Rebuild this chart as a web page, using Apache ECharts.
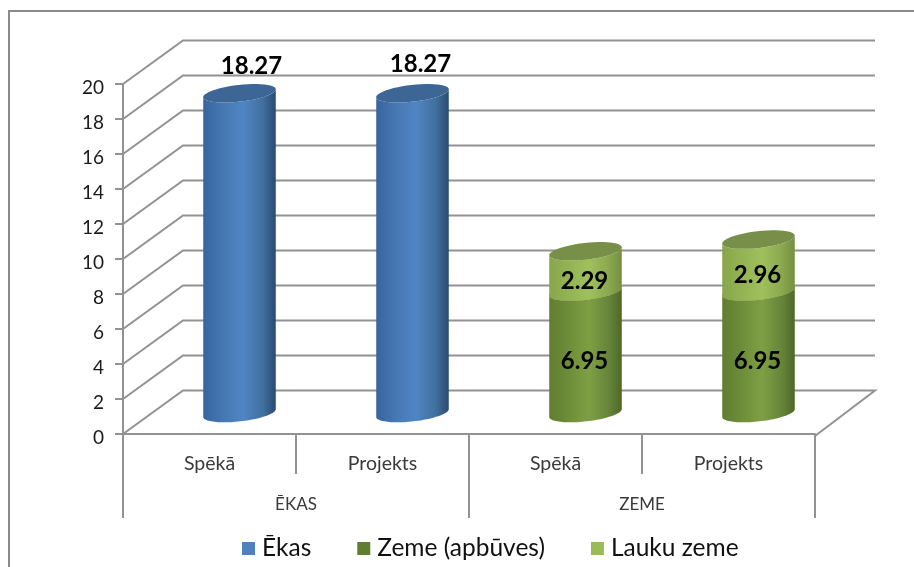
<!DOCTYPE html>
<html>
<head>
<meta charset="utf-8">
<style>html,body{margin:0;padding:0;background:#fff}#c{width:914px;height:567px}</style>
<script src="https://cdn.jsdelivr.net/npm/echarts@6/dist/echarts.min.js"></script>
</head>
<body>
<div id="c"></div>
<script>
const categories = ['Spēkā', 'Projekts', 'Spēkā', 'Projekts'];
const groups = ['ĒKAS', 'ZEME'];
const yTicks = [0, 2, 4, 6, 8, 10, 12, 14, 16, 18, 20];
const ekas = [18.27, 18.27, null, null];
const zemeApbuves = [null, null, 6.95, 6.95];
const laukuZeme = [null, null, 2.29, 2.96];

const FONT = 'Lato, "Open Sans", sans-serif';
const GRID_LINE = '#929292';
const DEPTH = [60, -43.5];           // front-to-back wall shift
const MID = [30, -21];               // bars stand halfway down the floor
const RX = 36.5, RY = 8.4, TILT = -6.5 * Math.PI / 180;

function ellipsePoint(cx, cy, t) {
  const ex = RX * Math.cos(t), ey = RY * Math.sin(t);
  return [cx + ex * Math.cos(TILT) - ey * Math.sin(TILT),
          cy + ex * Math.sin(TILT) + ey * Math.cos(TILT)];
}
function arc(cx, cy, from, to) {
  const pts = [];
  const n = 48;
  for (let i = 0; i <= n; i++) pts.push(ellipsePoint(cx, cy, from + (to - from) * i / n));
  return pts;
}
function hGrad(stops) {
  return new echarts.graphic.LinearGradient(0, 0, 1, 0, stops.map(c => ({offset: c[0], color: c[1]})));
}

function cylinderItem(bodyStops, capColor, labelOf) {
  return function (params, api) {
    const cat = api.value(0), base = api.value(1), top = api.value(2);
    const pb = api.coord([cat, base]), pt = api.coord([cat, top]);
    const x = pb[0] + MID[0], yb = pb[1] + MID[1], yt = pt[1] + MID[1];
    const bottom = arc(x, yb, Math.PI, 0);
    const topBack = arc(x, yt, 0, Math.PI);
    const lab = labelOf(params.dataIndex, x, yb, yt);
    return {type: 'group', children: [
      {type: 'polygon', shape: {points: bottom.concat(topBack)}, style: {fill: hGrad(bodyStops)}},
      {type: 'polygon', shape: {points: arc(x, yt, 0, Math.PI * 2)}, style: {fill: capColor}},
      {type: 'text', z2: 50, style: {
        x: lab.x, y: lab.y, text: lab.text, align: 'center', verticalAlign: 'middle',
        font: '700 ' + 24 + 'px ' + FONT, fill: '#000'}}
    ]};
  };
}
function rows(base, tops) {
  const out = [];
  tops.forEach((v, i) => {
    if (v !== null) {
      const b = base ? (base[i] || 0) : 0;
      out.push([i, b, b + v, v]);
    }
  });
  return out;
}
const ekasRows = rows(null, ekas);
const zemeRows = rows(null, zemeApbuves);
const laukuRows = rows(zemeApbuves, laukuZeme);
const aboveNudge = [[12, -27], [8, -29]];

const chart = echarts.init(document.getElementById('c'), null, {renderer: 'canvas', width: 914, height: 567});
chart.setOption({
  animation: false,
  backgroundColor: '#fff',
  graphic: [
    {type: 'polyline', silent: true, z: -1, shape: {points: [[9, 567], [9, 11], [914, 11]]},
     style: {stroke: '#8a8a8a', lineWidth: 2, fill: null}}
  ],
  grid: {left: 123, top: 84, width: 692, height: 350, containLabel: false},
  legend: {
    data: ['Ēkas', 'Zeme (apbūves)', 'Lauku zeme'],
    left: 242, top: 536, padding: 0, icon: 'rect',
    itemWidth: 13, itemHeight: 13, itemGap: 46,
    textStyle: {fontFamily: FONT, fontSize: 24.5, color: '#111', padding: [0, 0, 0, 2]}
  },
  xAxis: [
    {type: 'category', data: categories, offset: 2,
     axisLine: {lineStyle: {color: GRID_LINE, width: 2}},
     axisTick: {show: true, length: 40, lineStyle: {color: GRID_LINE, width: 2}},
     axisLabel: {interval: 0, margin: 18, fontFamily: FONT, fontSize: 19.5, color: '#3a3a3a'},
     splitLine: {show: false}},
    {type: 'category', data: groups, position: 'bottom', offset: 2,
     axisLine: {show: false},
     axisTick: {show: true, length: 82, lineStyle: {color: GRID_LINE, width: 2}},
     axisLabel: {interval: 0, margin: 60, fontFamily: FONT, fontSize: 17, color: '#3a3a3a'},
     splitLine: {show: false}}
  ],
  yAxis: {
    type: 'value', min: 0, max: 20, interval: 2,
    axisLine: {show: true, lineStyle: {color: GRID_LINE, width: 2}},
    axisTick: {show: true, length: 8, lineStyle: {color: GRID_LINE, width: 2}},
    axisLabel: {margin: 19, fontFamily: FONT, fontSize: 19, color: '#1a1a1a', verticalAlign: 'top', lineHeight: 8},
    splitLine: {show: false}
  },
  series: [
    {
      type: 'custom', name: 'wall', silent: true, z: 1,
      data: yTicks.map(v => [0, v]),
      encode: {x: 0, y: 1},
      renderItem(params, api) {
        const cs = params.coordSys;
        const v = api.value(1);
        const y = api.coord([0, v])[1];
        const xL = cs.x, xR = cs.x + cs.width;
        const points = [[xL, y], [xL + DEPTH[0], y + DEPTH[1]], [xR + DEPTH[0], y + DEPTH[1]]];
        if (v === 0) points.push([xR, y + 2]);
        return {type: 'polyline', shape: {points},
                style: {stroke: GRID_LINE, lineWidth: 2, fill: null}};
      }
    },
    {
      type: 'custom', name: 'Ēkas', z: 3, itemStyle: {color: '#4f81bd'},
      data: ekasRows, encode: {x: 0, y: [1, 2]},
      renderItem: cylinderItem(
        [[0, '#38659e'], [0.3, '#4779b4'], [0.55, '#5085c4'], [0.82, '#41709f'], [1, '#2a4a72']],
        '#3d6595',
        (i, x, yb, yt) => ({x: x + aboveNudge[i][0], y: yt + aboveNudge[i][1], text: ekasRows[i][3].toFixed(2)}))
    },
    {
      type: 'custom', name: 'Zeme (apbūves)', z: 3, itemStyle: {color: '#5f7f2f'},
      data: zemeRows, encode: {x: 0, y: [1, 2]},
      renderItem: cylinderItem(
        [[0, '#5f7e30'], [0.3, '#708f3b'], [0.55, '#7f9f43'], [0.82, '#66853a'], [1, '#4e6826']],
        '#6f8a3e',
        (i, x, yb, yt) => ({x: x - 1, y: (yb + yt) / 2 + 9, text: zemeRows[i][3].toFixed(2)}))
    },
    {
      type: 'custom', name: 'Lauku zeme', z: 4, itemStyle: {color: '#9bbb59'},
      data: laukuRows, encode: {x: 0, y: [1, 2]},
      renderItem: cylinderItem(
        [[0, '#86a64a'], [0.3, '#95b555'], [0.55, '#a0c05e'], [0.82, '#8ba84e'], [1, '#748f40']],
        '#788f49',
        (i, x, yb, yt) => ({x: x - 1, y: (yb + yt) / 2 + 10, text: laukuRows[i][3].toFixed(2)}))
    }
  ]
});
</script>
</body>
</html>
